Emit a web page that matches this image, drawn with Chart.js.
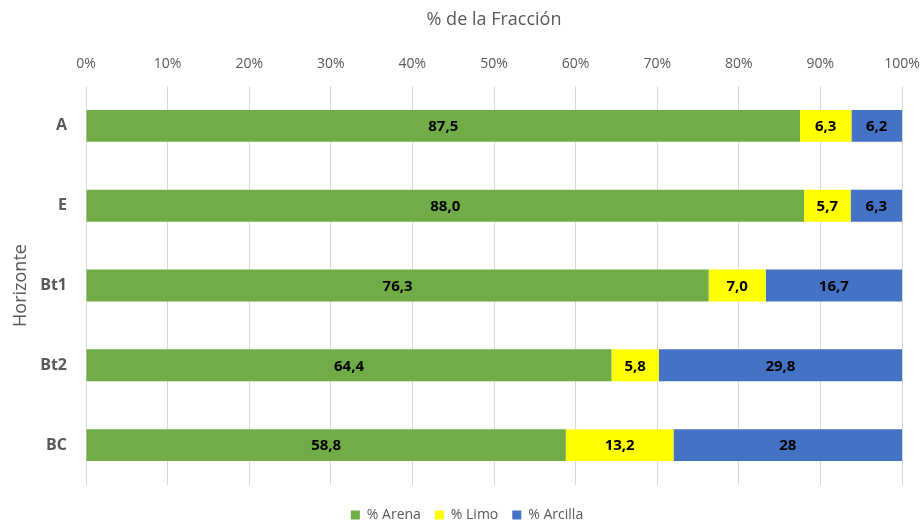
<!DOCTYPE html>
<html>
<head>
<meta charset="utf-8">
<script src="https://cdn.jsdelivr.net/npm/chart.js@4/dist/chart.umd.min.js"></script>
<style>
  html, body { margin: 0; padding: 0; background: #fff; }
  #wrap { width: 923px; height: 527px; }
</style>
</head>
<body>
<div id="wrap"><canvas id="chart"></canvas></div>
<script>
// Horizontes del perfil
const horizontes = ['A', 'E', 'Bt1', 'Bt2', 'BC'];

// % de cada fracción
const arena   = [87.5, 88.0, 76.3, 64.4, 58.8];
const limo    = [6.3, 5.7, 7.0, 5.8, 13.2];
const arcilla = [6.2, 6.3, 16.7, 29.8, 28];

// etiquetas tal como aparecen en el gráfico
const arenaTxt   = ['87,5', '88,0', '76,3', '64,4', '58,8'];
const limoTxt    = ['6,3', '5,7', '7,0', '5,8', '13,2'];
const arcillaTxt = ['6,2', '6,3', '16,7', '29,8', '28'];

const FONT = "'Open Sans', 'Liberation Sans', sans-serif";
const GRIS = '#595959';

// plugin sencillo para escribir los valores dentro de cada barra
const etiquetas = {
    id: 'etiquetas',
    afterInit(chart) {
        // leyenda con alto fijo y desplazada un poco, como en el original
        const leg = chart.legend;
        const fitOrig = leg.fit;
        leg.fit = function() {
            fitOrig.call(this);
            this.height = 42;
        };
        const drawOrig = leg.draw;
        leg.draw = function() {
            this.ctx.save();
            this.ctx.translate(16, 9);
            drawOrig.call(this);
            this.ctx.restore();
        };
    },
    afterDatasetsDraw(chart) {
        const ctx = chart.ctx;
        ctx.save();
        ctx.font = "bold 15px " + FONT;
        ctx.fillStyle = '#000';
        ctx.textAlign = 'center';
        ctx.textBaseline = 'middle';
        chart.data.datasets.forEach((ds, i) => {
            const meta = chart.getDatasetMeta(i);
            meta.data.forEach((bar, j) => {
                const cx = (bar.x + bar.base) / 2;
                ctx.fillText(ds.textos[j], cx, bar.y + 1);
            });
        });
        ctx.restore();
    }
};

new Chart(document.getElementById('chart'), {
    type: 'bar',
    data: {
        labels: horizontes,
        datasets: [
            { label: '% Arena', data: arena, textos: arenaTxt, backgroundColor: '#70AD47' },
            { label: '% Limo', data: limo, textos: limoTxt, backgroundColor: '#FFFF00' },
            { label: '% Arcilla', data: arcilla, textos: arcillaTxt, backgroundColor: '#4472C4' }
        ]
    },
    options: {
        indexAxis: 'y',
        responsive: true,
        maintainAspectRatio: false,
        animation: false,
        layout: { padding: { left: 0, right: 21, top: 0, bottom: 0 } },
        datasets: { bar: { barPercentage: 0.4, categoryPercentage: 1.0, borderWidth: 0 } },
        scales: {
            x: {
                position: 'top',
                stacked: true,
                min: 0,
                max: 100,
                ticks: {
                    stepSize: 10,
                    color: GRIS,
                    font: { family: FONT, size: 14 },
                    padding: 14,
                    callback: v => v + '%'
                },
                grid: { color: '#d9d9d9', drawTicks: false },
                border: { display: false },
                title: {
                    display: true,
                    text: '% de la Fracción',
                    color: GRIS,
                    font: { family: FONT, size: 18 },
                    padding: { top: 9, bottom: 7 }
                },
                afterFit: s => {
                    s.height = 86;
                    s.paddingLeft = 0;
                    s.paddingRight = 0;
                }
            },
            y: {
                stacked: true,
                ticks: {
                    color: GRIS,
                    font: { family: FONT, size: 16, weight: 'bold' },
                    padding: 11
                },
                grid: { display: false },
                border: { display: false },
                title: {
                    display: true,
                    text: 'Horizonte',
                    color: GRIS,
                    font: { family: FONT, size: 18 },
                    padding: { top: 10, bottom: 0 }
                },
                afterFit: s => { s.width = 86; }
            }
        },
        plugins: {
            legend: {
                position: 'bottom',
                labels: {
                    color: GRIS,
                    font: { family: FONT, size: 14 },
                    boxWidth: 9,
                    boxHeight: 9,
                    padding: 14
                }
            },
            tooltip: { enabled: false }
        }
    },
    plugins: [etiquetas]
});
</script>
</body>
</html>
